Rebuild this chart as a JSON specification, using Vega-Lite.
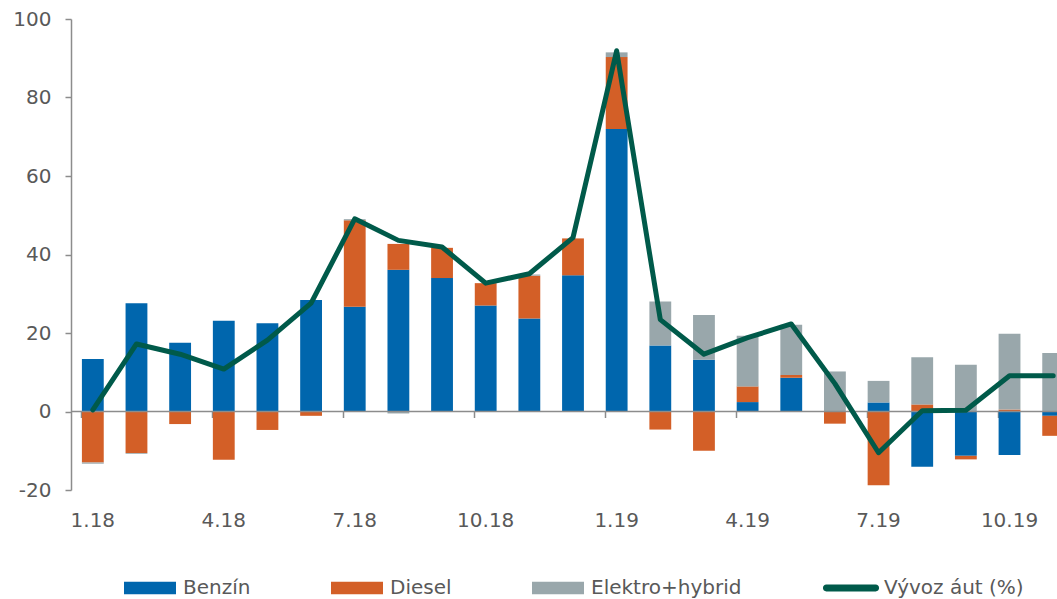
{
  "$schema": "https://vega.github.io/schema/vega-lite/v6.json",
  "width": 986,
  "height": 471,
  "autosize": {"type": "none"},
  "padding": {"left": 71, "top": 19, "right": 0, "bottom": 109},
  "background": "white",
  "config": {
    "view": {"stroke": null},
    "font": "DejaVu Sans",
    "axis": {
      "labelFont": "DejaVu Sans",
      "labelFontSize": 20,
      "labelColor": "#595959",
      "domainColor": "#8c8c8c",
      "tickColor": "#8c8c8c",
      "domainWidth": 1.5,
      "tickWidth": 1.5,
      "grid": false,
      "title": null
    },
    "legend": {
      "labelFont": "DejaVu Sans",
      "labelFontSize": 20,
      "labelColor": "#595959"
    }
  },
  "datasets": {
    "bars": [
      {"m": "1.18", "s": "Benzín", "v": 13.4}, {"m": "1.18", "s": "Diesel", "v": -13.0}, {"m": "1.18", "s": "Elektro+hybrid", "v": -0.3},
      {"m": "2.18", "s": "Benzín", "v": 27.6}, {"m": "2.18", "s": "Diesel", "v": -10.6}, {"m": "2.18", "s": "Elektro+hybrid", "v": -0.2},
      {"m": "3.18", "s": "Benzín", "v": 17.5}, {"m": "3.18", "s": "Diesel", "v": -3.2}, {"m": "3.18", "s": "Elektro+hybrid", "v": 0},
      {"m": "4.18", "s": "Benzín", "v": 23.1}, {"m": "4.18", "s": "Diesel", "v": -12.3}, {"m": "4.18", "s": "Elektro+hybrid", "v": 0},
      {"m": "5.18", "s": "Benzín", "v": 22.5}, {"m": "5.18", "s": "Diesel", "v": -4.7}, {"m": "5.18", "s": "Elektro+hybrid", "v": 0},
      {"m": "6.18", "s": "Benzín", "v": 28.4}, {"m": "6.18", "s": "Diesel", "v": -1.1}, {"m": "6.18", "s": "Elektro+hybrid", "v": 0},
      {"m": "7.18", "s": "Benzín", "v": 26.7}, {"m": "7.18", "s": "Diesel", "v": 22.0}, {"m": "7.18", "s": "Elektro+hybrid", "v": 0.3},
      {"m": "8.18", "s": "Benzín", "v": 36.1}, {"m": "8.18", "s": "Diesel", "v": 6.6}, {"m": "8.18", "s": "Elektro+hybrid", "v": -0.5},
      {"m": "9.18", "s": "Benzín", "v": 34.0}, {"m": "9.18", "s": "Diesel", "v": 7.7}, {"m": "9.18", "s": "Elektro+hybrid", "v": 0},
      {"m": "10.18", "s": "Benzín", "v": 27.0}, {"m": "10.18", "s": "Diesel", "v": 5.7}, {"m": "10.18", "s": "Elektro+hybrid", "v": 0},
      {"m": "11.18", "s": "Benzín", "v": 23.7}, {"m": "11.18", "s": "Diesel", "v": 10.9}, {"m": "11.18", "s": "Elektro+hybrid", "v": 0.3},
      {"m": "12.18", "s": "Benzín", "v": 34.7}, {"m": "12.18", "s": "Diesel", "v": 9.4}, {"m": "12.18", "s": "Elektro+hybrid", "v": 0},
      {"m": "1.19", "s": "Benzín", "v": 72.0}, {"m": "1.19", "s": "Diesel", "v": 18.3}, {"m": "1.19", "s": "Elektro+hybrid", "v": 1.2},
      {"m": "2.19", "s": "Benzín", "v": 16.8}, {"m": "2.19", "s": "Diesel", "v": -4.6}, {"m": "2.19", "s": "Elektro+hybrid", "v": 11.2},
      {"m": "3.19", "s": "Benzín", "v": 13.2}, {"m": "3.19", "s": "Diesel", "v": -10.0}, {"m": "3.19", "s": "Elektro+hybrid", "v": 11.4},
      {"m": "4.19", "s": "Benzín", "v": 2.4}, {"m": "4.19", "s": "Diesel", "v": 4.0}, {"m": "4.19", "s": "Elektro+hybrid", "v": 12.9},
      {"m": "5.19", "s": "Benzín", "v": 8.6}, {"m": "5.19", "s": "Diesel", "v": 0.7}, {"m": "5.19", "s": "Elektro+hybrid", "v": 12.8},
      {"m": "6.19", "s": "Benzín", "v": 0}, {"m": "6.19", "s": "Diesel", "v": -3.1}, {"m": "6.19", "s": "Elektro+hybrid", "v": 10.2},
      {"m": "7.19", "s": "Benzín", "v": 2.3}, {"m": "7.19", "s": "Diesel", "v": -18.8}, {"m": "7.19", "s": "Elektro+hybrid", "v": 5.5},
      {"m": "8.19", "s": "Benzín", "v": -14.1}, {"m": "8.19", "s": "Diesel", "v": 1.8}, {"m": "8.19", "s": "Elektro+hybrid", "v": 12.0},
      {"m": "9.19", "s": "Benzín", "v": -11.3}, {"m": "9.19", "s": "Diesel", "v": -0.9}, {"m": "9.19", "s": "Elektro+hybrid", "v": 11.9},
      {"m": "10.19", "s": "Benzín", "v": -11.1}, {"m": "10.19", "s": "Diesel", "v": 0.5}, {"m": "10.19", "s": "Elektro+hybrid", "v": 19.3},
      {"m": "11.19", "s": "Benzín", "v": -1.1}, {"m": "11.19", "s": "Diesel", "v": -5.1}, {"m": "11.19", "s": "Elektro+hybrid", "v": 14.9}
    ],
    "line": [
      {"m": "1.18", "v": 0.4}, {"m": "2.18", "v": 17.2}, {"m": "3.18", "v": 14.6}, {"m": "4.18", "v": 10.8},
      {"m": "5.18", "v": 18.2}, {"m": "6.18", "v": 27.6}, {"m": "7.18", "v": 49.1}, {"m": "8.18", "v": 43.6},
      {"m": "9.18", "v": 41.9}, {"m": "10.18", "v": 32.7}, {"m": "11.18", "v": 35.1}, {"m": "12.18", "v": 44.3},
      {"m": "1.19", "v": 91.9}, {"m": "2.19", "v": 23.4}, {"m": "3.19", "v": 14.6}, {"m": "4.19", "v": 18.8},
      {"m": "5.19", "v": 22.3}, {"m": "6.19", "v": 7.1}, {"m": "7.19", "v": -10.5}, {"m": "8.19", "v": 0.2},
      {"m": "9.19", "v": 0.3}, {"m": "10.19", "v": 9.1}, {"m": "11.19", "v": 9.1}
    ]
  },
  "layer": [
    {
      "data": {"name": "bars"},
      "mark": {"type": "bar"},
      "encoding": {
        "x": {
          "field": "m", "type": "ordinal", "sort": null,
          "scale": {
            "domain": ["1.18","2.18","3.18","4.18","5.18","6.18","7.18","8.18","9.18","10.18","11.18","12.18","1.19","2.19","3.19","4.19","5.19","6.19","7.19","8.19","9.19","10.19","11.19"],
            "range": [0, 1004],
            "paddingInner": 0.5,
            "paddingOuter": 0.25
          },
          "axis": {
            "orient": "bottom",
            "values": ["1.18","4.18","7.18","10.18","1.19","4.19","7.19","10.19"],
            "domain": false,
            "ticks": false,
            "labelAngle": 0,
            "labelPadding": 20
          }
        },
        "y": {
          "field": "v", "type": "quantitative", "stack": "zero",
          "scale": {"domain": [-20, 100], "nice": false, "zero": false},
          "axis": {
            "values": [-20, 0, 20, 40, 60, 80, 100],
            "labelExpr": "'' + datum.value",
            "tickSize": 6,
            "labelPadding": 14
          }
        },
        "order": {"field": "s", "sort": "ascending"},
        "color": {
          "field": "s", "type": "nominal",
          "scale": {
            "domain": ["Benzín", "Diesel", "Elektro+hybrid", "Vývoz áut (%)"],
            "range": ["#0066ad", "#d35f27", "#99a7ab", "#005a4a"]
          },
          "legend": {
            "orient": "none",
            "legendX": 53,
            "legendY": 543,
            "direction": "horizontal",
            "title": null,
            "columnPadding": 80,
            "labelOffset": 7,
            "symbolSize": 2704,
            "symbolType": "M-1,-0.24H1V0.24H-1Z",
            "symbolStrokeWidth": 0,
            "padding": 0,
            "encode": {
              "symbols": {
                "update": {
                  "shape": {"signal": "datum.value === 'Vývoz áut (%)' ? 'M-0.95,-0.13H0.95A0.13,0.13 0 0 1 0.95,0.13H-0.95A0.13,0.13 0 0 1 -0.95,-0.13Z' : 'M-1,-0.24H1V0.24H-1Z'"},
                  "fill": {"scale": "color", "field": "value"},
                  "stroke": {"value": "transparent"},
                  "opacity": {"value": 1}
                }
              }
            }
          }
        }
      }
    },
    {
      "data": {"values": [{}]},
      "mark": {"type": "rule", "color": "#8c8c8c", "strokeWidth": 1.5},
      "encoding": {"y": {"datum": 0}}
    },
    {
      "data": {"name": "line"},
      "mark": {"type": "line", "strokeWidth": 5, "strokeCap": "round", "strokeJoin": "round"},
      "encoding": {
        "x": {
          "field": "m", "type": "ordinal", "sort": null,
          "axis": {
            "orient": "bottom",
            "offset": -78.5,
            "values": ["1.18","4.18","7.18","10.18","1.19","4.19","7.19","10.19"],
            "domain": false,
            "labels": false,
            "ticks": true,
            "tickSize": 6,
            "bandPosition": 0
          }
        },
        "y": {"field": "v", "type": "quantitative"},
        "color": {"datum": "Vývoz áut (%)"}
      }
    }
  ],
  "resolve": {"axis": {"x": "independent"}}
}
